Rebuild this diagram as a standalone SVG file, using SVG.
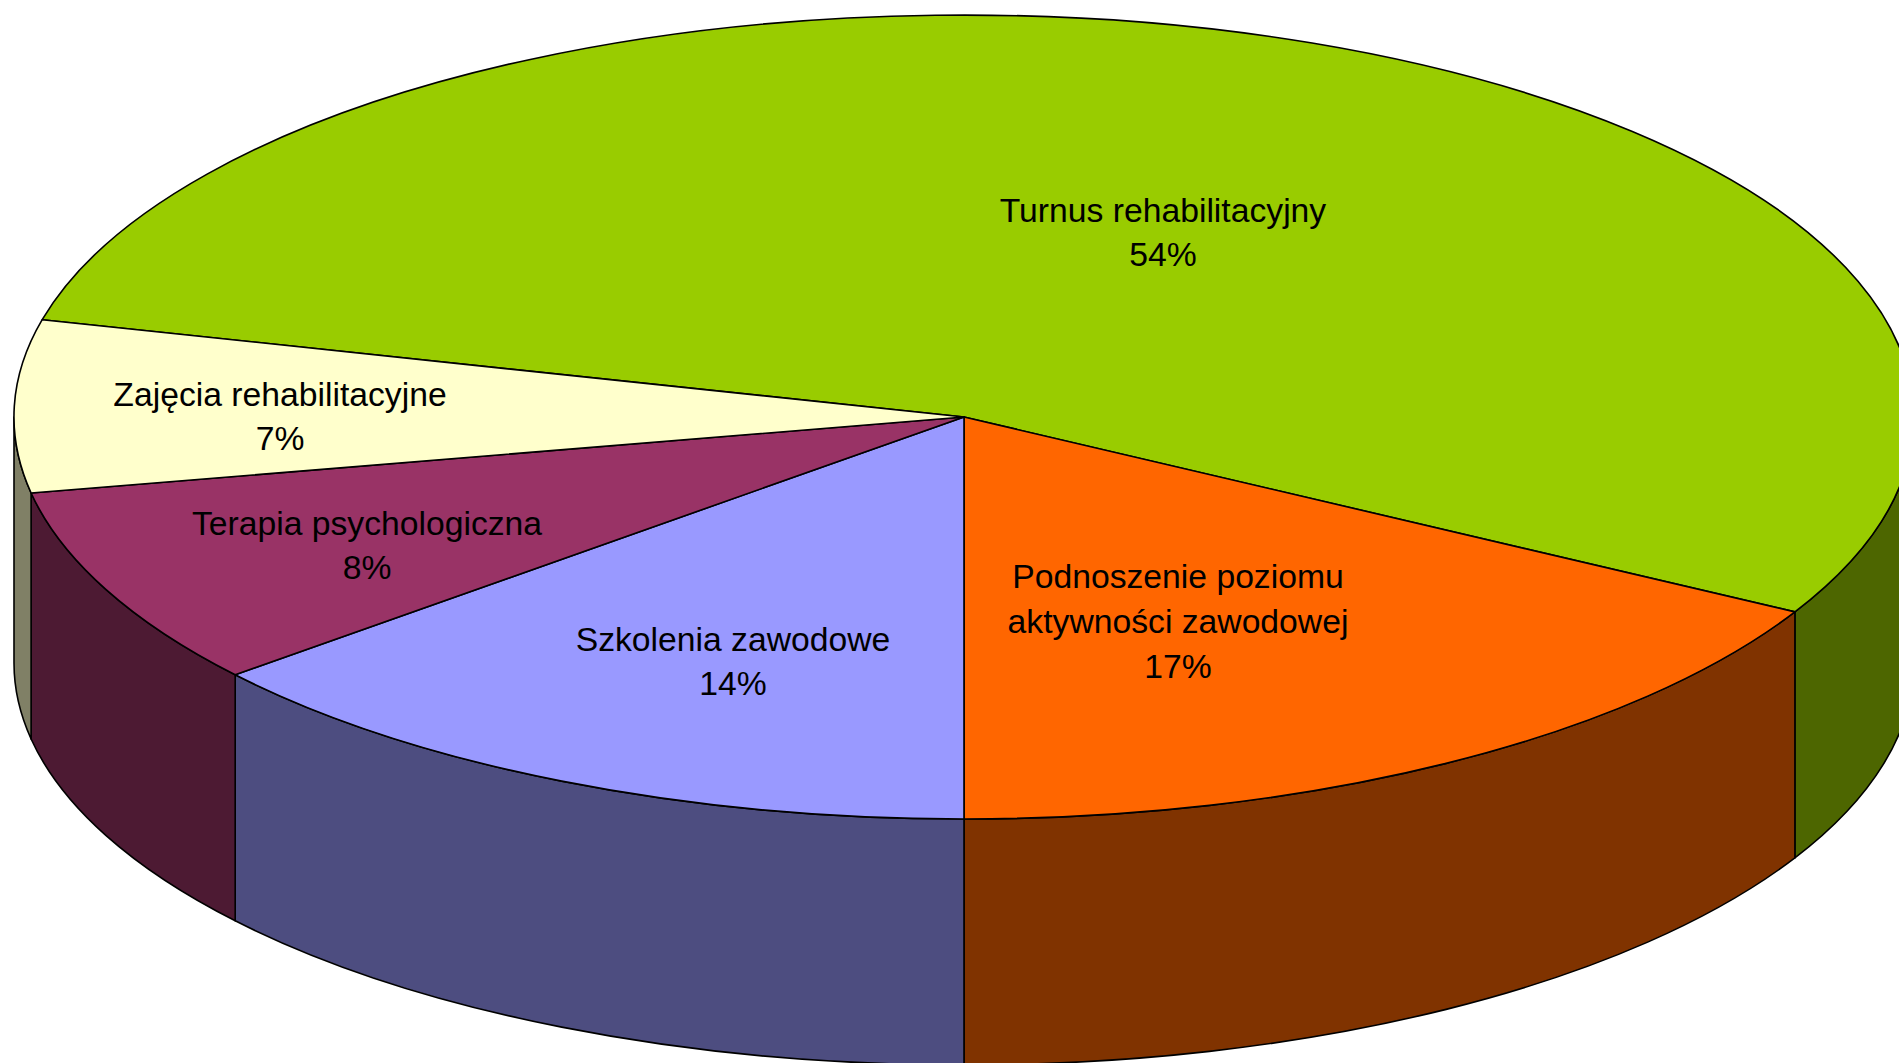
<svg xmlns="http://www.w3.org/2000/svg" width="1899" height="1063" viewBox="0 0 1899 1063">
<style>
.s{stroke:#000;stroke-width:1.6;stroke-linejoin:round}
.t{font-family:"Liberation Sans",Arial,sans-serif;font-size:33.7px;fill:#000;text-anchor:middle}
</style>
<rect width="1899" height="1063" fill="#fff"/>
<g id="sides">
<path class="s" fill="#4D6600" d="M1914,417 A950,402 0 0 1 1794.9,611.9 L1794.9,857.9 A950,402 0 0 0 1914,663 Z"/>
<path class="s" fill="#803300" d="M1794.9,611.9 A950,402 0 0 1 964,819 L964,1065 A950,402 0 0 0 1794.9,857.9 Z"/>
<path class="s" fill="#4D4D80" d="M964,819 A950,402 0 0 1 235.2,674.8 L235.2,920.8 A950,402 0 0 0 964,1065 Z"/>
<path class="s" fill="#4D1A33" d="M235.2,674.8 A950,402 0 0 1 31.1,493 L31.1,739 A950,402 0 0 0 235.2,920.8 Z"/>
<path class="s" fill="#808066" d="M31.1,493 A950,402 0 0 1 14,417 L14,663 A950,402 0 0 0 31.1,739 Z"/>
</g>
<g id="turnus">
<path class="s" fill="#99CC00" d="M964,417 L42.2,319.7 A950,402 0 1 1 1794.9,611.9 Z"/>
<text class="t" x="1163" y="222">Turnus rehabilitacyjny</text>
<text class="t" x="1163" y="266">54%</text>
</g>
<g id="podnoszenie">
<path class="s" fill="#FF6600" d="M964,417 L1794.9,611.9 A950,402 0 0 1 964,819 Z"/>
<text class="t" x="1178" y="588">Podnoszenie poziomu</text>
<text class="t" x="1178" y="633">aktywności zawodowej</text>
<text class="t" x="1178" y="678">17%</text>
</g>
<g id="szkolenia">
<path class="s" fill="#9999FF" d="M964,417 L964,819 A950,402 0 0 1 235.2,674.8 Z"/>
<text class="t" x="733" y="651">Szkolenia zawodowe</text>
<text class="t" x="733" y="695">14%</text>
</g>
<g id="terapia">
<path class="s" fill="#993366" d="M964,417 L235.2,674.8 A950,402 0 0 1 31.1,493 Z"/>
<text class="t" x="367" y="535">Terapia psychologiczna</text>
<text class="t" x="367" y="579">8%</text>
</g>
<g id="zajecia">
<path class="s" fill="#FFFFCC" d="M964,417 L31.1,493 A950,402 0 0 1 42.2,319.7 Z"/>
<text class="t" x="280" y="406">Zajęcia rehabilitacyjne</text>
<text class="t" x="280" y="450">7%</text>
</g>
</svg>
